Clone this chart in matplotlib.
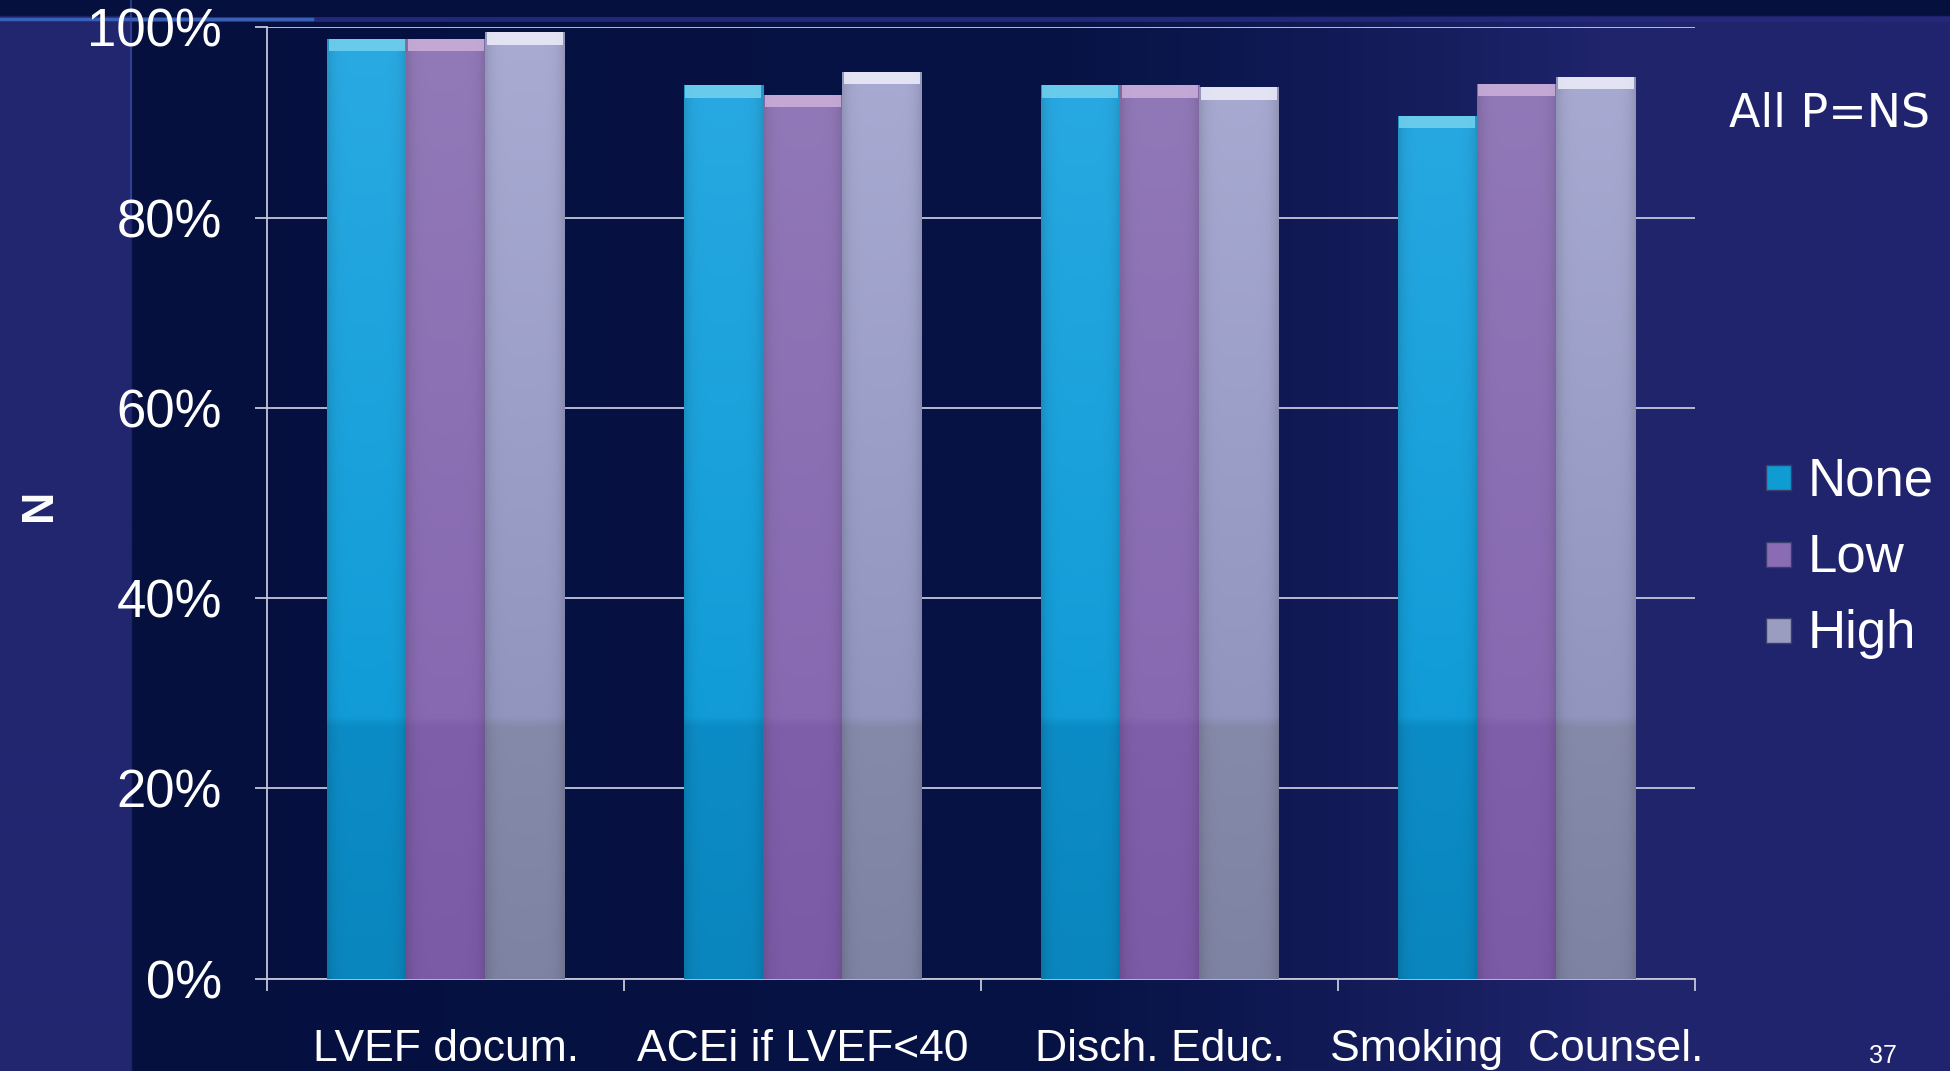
import numpy as np
import matplotlib.pyplot as plt
from matplotlib.colors import to_rgb
from matplotlib.lines import Line2D

categories = ["LVEF docum.", "ACEi if LVEF<40", "Disch. Educ.", "Smoking  Counsel."]
series_names = ["None", "Low", "High"]
none_vals = [98.8, 93.9, 93.9, 90.7]
low_vals = [98.8, 92.9, 93.9, 94.1]
high_vals = [99.5, 95.3, 93.7, 94.8]
yticks = [0, 20, 40, 60, 80, 100]
ytick_labels = ["0%", "20%", "40%", "60%", "80%", "100%"]
note = "All P=NS"
ylabel = "N"
page_no = "37"

# gradient stops per series: (position 0..1 of axis height, colour)
stops = {
    "None": [(0.0, "#0A86BE"), (0.265, "#0C8CC6"), (0.275, "#119CD7"), (1.0, "#2AAAE2")],
    "Low": [(0.0, "#7B5AA6"), (0.265, "#7F5FAA"), (0.275, "#8769B1"), (1.0, "#927AB8")],
    "High": [(0.0, "#7E83A3"), (0.265, "#868AAA"), (0.275, "#9296BF"), (1.0, "#A9ABD3")],
}
caps = {"None": "#74D2EE", "Low": "#CDB0DA", "High": "#EEEEFA"}
legend_cols = {"None": "#0E9CD2", "Low": "#8A6CB4", "High": "#9A9CC0"}

SANS = ["Liberation Sans", "DejaVu Sans"]


def _grad(stop_list, n=300):
    pos = np.array([p for p, _ in stop_list])
    cols = np.array([to_rgb(c) for _, c in stop_list])
    t = np.linspace(0, 1, n)
    return np.stack([np.interp(t, pos, cols[:, k]) for k in range(3)], axis=1)


fig = plt.figure(figsize=(19.5, 10.71), dpi=100)

# slide background
bg = fig.add_axes([0, 0, 1, 1], zorder=-10)
bg.set_axis_off()
W, H = 975, 536
xs = np.linspace(0, 1, W)
row = np.stack([
    np.interp(xs, [0, 0.067, 0.0675, 0.55, 0.70, 0.82, 1.0],
              [to_rgb(c)[k] for c in ["#22266F", "#22266F", "#05103F", "#071345",
                                      "#131B58", "#1F246B", "#21256F"]])
    for k in range(3)], axis=1)
img = np.repeat(row[None, :, :], H, axis=0)
img[: int(H * 0.016)] = to_rgb("#06103F")
bg.imshow(img, extent=[0, 1, 0, 1], aspect="auto", origin="upper")
bg.set_xlim(0, 1)
bg.set_ylim(0, 1)
bg.plot([0, 1], [0.982, 0.982], color="#23287A", lw=3.5, solid_capstyle="butt")
bg.plot([0.0, 0.16], [0.982, 0.982], color="#3F6FC8", lw=2.5, alpha=0.8)
bg.plot([0.067, 0.067], [0.80, 1.0], color="#3A55B0", lw=1.5, alpha=0.6)

ax = fig.add_axes([0.1371, 0.0862, 0.7321, 0.8882])
ax.set_facecolor("none")

x = np.arange(len(categories))
width = 0.222
offsets = [-width, 0, width]
all_vals = [none_vals, low_vals, high_vals]

for name, vals, off in zip(series_names, all_vals, offsets):
    bars = ax.bar(x + off, vals, width, color="none", edgecolor="none", zorder=3)
    g = _grad(stops[name])
    # darken bar edges a little
    cols_n = 40
    shade = 1 - 0.12 * (np.abs(np.linspace(-1, 1, cols_n)) ** 6)
    tex = g[:, None, :] * shade[None, :, None]
    for p in bars:
        x0, w = p.get_x(), p.get_width()
        im = ax.imshow(tex, extent=[x0, x0 + w, 0, 100], origin="lower",
                       aspect="auto", zorder=3, interpolation="bilinear")
        im.set_clip_path(p)
    ax.bar(x + off, [1.3] * len(vals), width * 0.96, bottom=np.array(vals) - 1.3,
           color=caps[name], edgecolor="none", zorder=4, alpha=0.85)

ax.set_xlim(-0.5, len(categories) - 0.5)
ax.set_ylim(0, 100)

ax.set_yticks(yticks, ytick_labels)
ax.yaxis.grid(True, color="#C4C6DA", lw=1.3)
ax.set_axisbelow(True)
ax.tick_params(axis="y", length=8.6, width=1.3, color="#C4C6DA", pad=24,
               labelcolor="white", labelsize=38)
for t in ax.get_yticklabels():
    t.set_family(SANS)

ax.set_xticks(x, categories)
ax.set_xticks(np.arange(len(categories) + 1) - 0.5, minor=True)
ax.tick_params(axis="x", which="major", length=0, pad=36, labelcolor="white", labelsize=32)
ax.tick_params(axis="x", which="minor", length=8.6, width=1.3, color="#C4C6DA")
for t in ax.get_xticklabels():
    t.set_family(SANS)

for s in ["top", "right"]:
    ax.spines[s].set_visible(False)
for s in ["left", "bottom"]:
    ax.spines[s].set_color("#C4C6DA")
    ax.spines[s].set_linewidth(1.3)

handles = [Line2D([], [], marker="s", ls="none", markersize=18,
                  markerfacecolor=legend_cols[n], markeredgecolor="#3A3F70")
           for n in series_names]
leg = fig.legend(handles, series_names, loc="center left", bbox_to_anchor=(0.8875, 0.479),
                 frameon=False, handlelength=0.8, handletextpad=0.15, labelspacing=0.5,
                 borderpad=0, prop={"family": SANS, "size": 38})
for t in leg.get_texts():
    t.set_color("white")

fig.text(0.8867, 0.894, note, color="white", fontsize=33, family="DejaVu Sans",
         ha="left", va="center")
fig.text(0.020, 0.529, ylabel, color="white", fontsize=32, fontweight="bold",
         family=SANS, rotation=90, ha="center", va="center")
fig.text(0.9656, 0.003, page_no, color="white", fontsize=18, family=SANS,
         ha="center", va="bottom")

fig.savefig("out.png", dpi=100, facecolor="#22266F")
plt.close(fig)
